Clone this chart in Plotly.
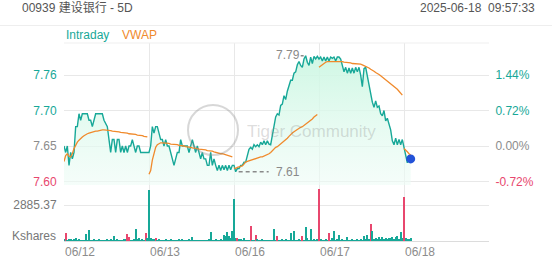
import plotly.graph_objects as go

# ---------------- data ----------------
SLOTS_PER_DAY = 51
day_labels = ["06/12", "06/13", "06/16", "06/17", "06/18"]
prev_close = 7.65
title_text = "00939 建设银行 - 5D"
stamp_text = "2025-06-18  09:57:33"

price_d1 = [7.65, 7.64, 7.65, 7.62, 7.64, 7.63, 7.64, 7.68, 7.68, 7.70, 7.69, 7.70, 7.70, 7.70, 7.70, 7.69, 7.69,
            7.68, 7.69, 7.70, 7.70, 7.70, 7.70, 7.70, 7.69, 7.685, 7.68, 7.66, 7.64, 7.66, 7.66, 7.64, 7.66, 7.66,
            7.64, 7.65, 7.64, 7.65, 7.64, 7.65, 7.65, 7.66, 7.65, 7.64, 7.65, 7.65, 7.64, 7.64, 7.64, 7.64, 7.64]
price_d2 = [7.64, 7.65, 7.68, 7.67, 7.68, 7.68, 7.67, 7.66, 7.66, 7.65, 7.66, 7.65, 7.65, 7.64, 7.63, 7.62, 7.63,
            7.64, 7.64, 7.66, 7.65, 7.65, 7.65, 7.65, 7.64, 7.65, 7.66, 7.65, 7.64, 7.65, 7.64, 7.63, 7.64, 7.63,
            7.63, 7.62, 7.62, 7.64, 7.62, 7.63, 7.62, 7.612, 7.62, 7.612, 7.62, 7.613, 7.62, 7.612, 7.62, 7.613, 7.62]
price_d3 = [7.62, 7.61, 7.615, 7.615, 7.62, 7.62, 7.625, 7.625, 7.636, 7.645, 7.648, 7.645, 7.652, 7.649, 7.652,
            7.649, 7.656, 7.652, 7.658, 7.652, 7.658, 7.653, 7.652, 7.668, 7.68, 7.695, 7.70, 7.698, 7.713, 7.715,
            7.728, 7.722, 7.735, 7.742, 7.752, 7.752, 7.763, 7.765, 7.776, 7.781, 7.775, 7.772, 7.785, 7.79, 7.78,
            7.775, 7.788, 7.778, 7.789, 7.785, 7.789]
price_d4 = [7.785, 7.788, 7.782, 7.788, 7.782, 7.788, 7.782, 7.788, 7.786, 7.788, 7.782, 7.788, 7.788, 7.785,
            7.775, 7.765, 7.772, 7.763, 7.771, 7.763, 7.771, 7.763, 7.772, 7.765, 7.772, 7.76, 7.742, 7.77, 7.772,
            7.758, 7.745, 7.73, 7.718, 7.71, 7.72, 7.71, 7.712, 7.70, 7.697, 7.705, 7.689, 7.693, 7.683, 7.675,
            7.658, 7.652, 7.662, 7.652, 7.66, 7.652, 7.66]
price_d5 = [7.649, 7.64, 7.624, 7.636, 7.63]

vwap_d1 = [7.626, 7.635, 7.638, 7.634, 7.633, 7.638, 7.646, 7.652, 7.656, 7.659, 7.662, 7.664, 7.666, 7.668,
           7.669, 7.670, 7.671, 7.672, 7.672, 7.673, 7.673, 7.674, 7.674, 7.675, 7.675, 7.675, 7.675, 7.674,
           7.674, 7.673, 7.673, 7.672, 7.672, 7.672, 7.671, 7.671, 7.670, 7.670, 7.670, 7.669, 7.669, 7.668,
           7.668, 7.668, 7.667, 7.667, 7.667, 7.666, 7.665, 7.665, 7.664]
vwap_d2 = [7.606, 7.612, 7.628, 7.640, 7.648, 7.652, 7.654, 7.655, 7.655, 7.655, 7.654, 7.654, 7.654, 7.653,
           7.653, 7.653, 7.652, 7.652, 7.651, 7.651, 7.650, 7.650, 7.649, 7.649, 7.648, 7.648, 7.647, 7.647,
           7.646, 7.646, 7.645, 7.645, 7.644, 7.644, 7.644, 7.643, 7.643, 7.642, 7.642, 7.641, 7.640, 7.640,
           7.639, 7.638, 7.638, 7.637, 7.636, 7.636, 7.635, 7.634, 7.633]
vwap_d3 = [7.616, 7.615, 7.617, 7.618, 7.618, 7.619, 7.622, 7.625, 7.626, 7.627, 7.628, 7.629, 7.630, 7.631,
           7.632, 7.632, 7.633, 7.633, 7.634, 7.635, 7.637, 7.638, 7.640, 7.643, 7.646, 7.648, 7.649, 7.651,
           7.653, 7.655, 7.657, 7.660, 7.662, 7.665, 7.668, 7.670, 7.672, 7.674, 7.676, 7.678, 7.679, 7.680,
           7.682, 7.684, 7.686, 7.687, 7.689, 7.692, 7.695, 7.697, 7.699]
vwap_d4 = [7.772, 7.774, 7.777, 7.779, 7.780, 7.781, 7.781, 7.782, 7.782, 7.782, 7.782, 7.782, 7.782, 7.781,
           7.781, 7.780, 7.780, 7.779, 7.779, 7.779, 7.778, 7.778, 7.778, 7.777, 7.777, 7.777, 7.776, 7.775,
           7.773, 7.772, 7.771, 7.769, 7.768, 7.766, 7.764, 7.763, 7.761, 7.759, 7.757, 7.755, 7.753, 7.751,
           7.749, 7.747, 7.745, 7.742, 7.740, 7.738, 7.735, 7.732, 7.729]
vwap_d5 = [7.646, 7.644, 7.641, 7.638, 7.636]

vol_d1 = [120, 640, 60, 190, 160, 60, 160, 210, 50, 160, 50, 40, 60, 560, 70, 900, 60, 50, 110, 40, 60, 110, 50,
          80, 60, 70, 130, 50, 160, 60, 370, 80, 130, 60, 70, 50, 90, 100, 560, 350, 60, 80, 120, 960, 100, 240,
          60, 160, 80, 640, 240]
vol_d2 = [4110, 240, 180, 90, 240, 70, 160, 60, 80, 50, 180, 60, 70, 110, 50, 60, 80, 50, 160, 60, 180, 50, 70,
          60, 130, 50, 290, 60, 70, 50, 60, 80, 60, 50, 70, 60, 90, 720, 60, 50, 110, 60, 70, 130, 80, 510, 380,
          720, 380, 240, 770]
vol_d3 = [3390, 240, 240, 100, 180, 60, 240, 60, 50, 80, 1230, 60, 80, 450, 180, 50, 60, 180, 50, 80, 60, 50,
          70, 60, 990, 80, 370, 60, 50, 110, 60, 160, 60, 70, 640, 80, 830, 60, 70, 160, 60, 370, 80, 1120, 240,
          80, 990, 60, 180, 70, 110]
vol_d4 = [4170, 180, 60, 80, 180, 60, 640, 80, 240, 770, 60, 180, 510, 60, 160, 50, 60, 290, 50, 60, 110, 50,
          60, 130, 60, 130, 80, 370, 100, 510, 150, 1390, 770, 120, 240, 150, 290, 180, 290, 200, 240, 200, 240,
          220, 290, 200, 290, 370, 180, 720, 240]
vol_d5 = [3530, 240, 120, 180, 240]

down_d1 = [1, 38, 39, 49]
down_d2 = [4]
down_d3 = [2, 10, 13, 26, 41]
down_d4 = [0, 6, 31]
down_d5 = [0]

price_tick_labels = ["7.76", "7.70", "7.65", "7.60"]
pct_tick_values = [1.44, 0.72, 0.0, -0.72]
pct_tick_labels = ["1.44%", "0.72%", "0.00%", "-0.72%"]
vol_tick_value = 2885.37
vol_tick_label = "2885.37"
vol_unit = "Kshares"

# ---------------- styling / layout constants ----------------
FONT = "Liberation Sans, Arial, Noto Sans CJK SC, sans-serif"
TEAL = "#17a898"
ORANGE = "#f08a2c"
RED = "#e8476e"
GRAY = "#8c8c8c"
GRID = "#e8e8e8"
W, H = 552, 265
ML, MR, MT, MB = 64, 63, 43, 24
PW = W - ML - MR
PH = H - MT - MB


def pxx(xp):
    return (xp - ML) / PW


def pxy(yp):
    return (H - MB - yp) / PH


price_range = [7.5895, 7.8098]
pct_range = [(v / prev_close - 1) * 100 for v in price_range]
vol_range = [0, 4488]

# ---------------- assemble series ----------------
days_price = [price_d1, price_d2, price_d3, price_d4, price_d5]
days_vwap = [vwap_d1, vwap_d2, vwap_d3, vwap_d4, vwap_d5]
days_vol = [vol_d1, vol_d2, vol_d3, vol_d4, vol_d5]
days_down = [down_d1, down_d2, down_d3, down_d4, down_d5]

xs, ps, vx, vy, bx, by, bc = [], [], [], [], [], [], []
for d in range(5):
    base = d * SLOTS_PER_DAY
    for i, p in enumerate(days_price[d]):
        xs.append(base + i)
        ps.append(p)
    for i, v in enumerate(days_vwap[d]):
        vx.append(base + i)
        vy.append(v)
    vx.append(None)
    vy.append(None)
    for i, v in enumerate(days_vol[d]):
        bx.append(base + i)
        by.append(v)
        bc.append(RED if i in days_down[d] else TEAL)

total_slots = 5 * SLOTS_PER_DAY
day_starts = [d * SLOTS_PER_DAY for d in range(5)]

fig = go.Figure()
fig.add_trace(go.Scatter(
    x=xs, y=ps, mode="lines", line=dict(color=TEAL, width=1.4),
    fill="tozeroy",
    fillgradient=dict(type="vertical", start=price_range[0], stop=price_range[1],
                      colorscale=[[0, "rgba(238,252,246,0.6)"], [1, "rgba(200,246,224,0.95)"]]),
    xaxis="x", yaxis="y", hoverinfo="skip", showlegend=False))
fig.add_trace(go.Scatter(
    x=vx, y=vy, mode="lines", line=dict(color=ORANGE, width=1.3),
    xaxis="x", yaxis="y", hoverinfo="skip", showlegend=False, connectgaps=False))
fig.add_trace(go.Scatter(
    x=[xs[-1]], y=[ps[-1]], mode="markers", marker=dict(color="#2352d8", size=9),
    xaxis="x", yaxis="y", hoverinfo="skip", showlegend=False))
fig.add_trace(go.Scatter(
    x=[xs[0]], y=[0], mode="markers", marker=dict(opacity=0),
    xaxis="x", yaxis="y3", hoverinfo="skip", showlegend=False))
fig.add_trace(go.Bar(
    x=bx, y=by, marker=dict(color=bc, line=dict(width=0)), width=0.55,
    xaxis="x2", yaxis="y2", hoverinfo="skip", showlegend=False))

price_tick_vals = [prev_close * (1 + p / 100) for p in pct_tick_values]


def colored(label, v):
    c = TEAL if v > 0 else (RED if v < 0 else GRAY)
    return f'<span style="color:{c}">{label}</span>'


xtick_vals = day_starts + [total_slots]

fig.update_layout(
    width=W, height=H, margin=dict(l=ML, r=MR, t=MT, b=MB, autoexpand=False),
    paper_bgcolor="white", plot_bgcolor="white",
    font=dict(family=FONT, size=12, color=GRAY),
    bargap=0,
    xaxis=dict(domain=[0, 1], anchor="y", range=[0, total_slots], tickvals=xtick_vals, automargin=False,
               showticklabels=False, showgrid=True, gridcolor=GRID, gridwidth=1, zeroline=False, ticks=""),
    xaxis2=dict(domain=[0, 1], anchor="y2", matches="x", range=[0, total_slots], tickvals=xtick_vals,
                ticktext=day_labels + [""], ticklabelposition="outside right", automargin=False,
                showgrid=True, gridcolor=GRID, zeroline=False, showline=True, linecolor="#dcdcdc",
                ticks="outside", ticklen=3, tickcolor="rgba(0,0,0,0)",
                tickfont=dict(size=12, color=GRAY)),
    yaxis=dict(domain=[pxy(185), 1], anchor="x", range=price_range, tickvals=price_tick_vals,
               ticktext=[colored(t, v) for t, v in zip(price_tick_labels, pct_tick_values)], automargin=False,
               showgrid=True, gridcolor=GRID, zeroline=False, ticks="outside", ticklen=4,
               tickcolor="rgba(0,0,0,0)", tickfont=dict(size=12)),
    yaxis3=dict(overlaying="y", side="right", anchor="x", range=pct_range, tickvals=pct_tick_values,
                ticktext=[colored(t, v) for t, v in zip(pct_tick_labels, pct_tick_values)], automargin=False,
                showgrid=False, zeroline=False, ticks="outside", ticklen=3,
                tickcolor="rgba(0,0,0,0)", tickfont=dict(size=12)),
    yaxis2=dict(domain=[0, pxy(185)], anchor="x2", range=vol_range, tickvals=[vol_tick_value],
                ticktext=[vol_tick_label], showgrid=True, gridcolor=GRID, zeroline=False, automargin=False,
                ticks="outside", ticklen=4, tickcolor="rgba(0,0,0,0)",
                tickfont=dict(size=12, color="#777777")),
)

# header lines
fig.add_shape(type="line", xref="paper", yref="paper", x0=pxx(0), x1=pxx(W), y0=pxy(25.5), y1=pxy(25.5),
              line=dict(color="#eeeeee", width=1))
fig.add_shape(type="line", xref="paper", yref="paper", x0=0, x1=1, y0=1, y1=1,
              line=dict(color="#efefef", width=1))

# header texts
fig.add_annotation(xref="paper", yref="paper", x=pxx(20), y=pxy(8.5), text=title_text, showarrow=False,
                   xanchor="left", yanchor="middle", font=dict(size=12, color="#555555"))
fig.add_annotation(xref="paper", yref="paper", x=pxx(537), y=pxy(8.5), text=stamp_text, showarrow=False,
                   xanchor="right", yanchor="middle", font=dict(size=12, color="#555555"))
fig.add_annotation(xref="paper", yref="paper", x=pxx(64), y=pxy(35), text="Intraday", showarrow=False,
                   xanchor="left", yanchor="middle", font=dict(size=12, color=TEAL))
fig.add_annotation(xref="paper", yref="paper", x=pxx(120), y=pxy(35), text="VWAP", showarrow=False,
                   xanchor="left", yanchor="middle", font=dict(size=12, color=ORANGE))
fig.add_annotation(xref="paper", yref="paper", x=pxx(58), y=pxy(236), text=vol_unit, showarrow=False,
                   xanchor="right", yanchor="middle", font=dict(size=12, color="#777777"))

# watermark
fig.add_shape(type="circle", xref="paper", yref="paper", x0=pxx(188), x1=pxx(238), y0=pxy(155), y1=pxy(105),
              line=dict(color="rgba(140,140,140,0.35)", width=2), layer="above")
fig.add_annotation(xref="paper", yref="paper", x=pxx(245), y=pxy(131), text="Tiger Community", showarrow=False,
                   xanchor="left", yanchor="middle", font=dict(size=17, color="rgba(140,140,140,0.3)"))

# min / max markers
imin = min(range(len(ps)), key=lambda k: ps[k])
imax = max(range(len(ps)), key=lambda k: ps[k])
fig.add_shape(type="line", xref="x", yref="y", xsizemode="pixel", xanchor=xs[imin], x0=3, x1=33,
              y0=ps[imin], y1=ps[imin], line=dict(color="#8a8a8a", width=1.5, dash="4px,3px"))
fig.add_annotation(xref="x", yref="y", x=xs[imin], y=ps[imin], text=f"{ps[imin]:.2f}", showarrow=False,
                   xanchor="left", yanchor="middle", xshift=38, font=dict(size=12, color="#8a8a8a"))
fig.add_shape(type="line", xref="x", yref="y", xsizemode="pixel", xanchor=xs[imax], x0=-5, x1=-1,
              y0=ps[imax], y1=ps[imax], line=dict(color="#8a8a8a", width=1.5, dash="3px,2px"))
fig.add_annotation(xref="x", yref="y", x=xs[imax], y=ps[imax], text=f"{ps[imax]:.2f}", showarrow=False,
                   xanchor="right", yanchor="middle", xshift=-4, yshift=1, font=dict(size=12, color="#8a8a8a"))

fig.write_html("out.html")
